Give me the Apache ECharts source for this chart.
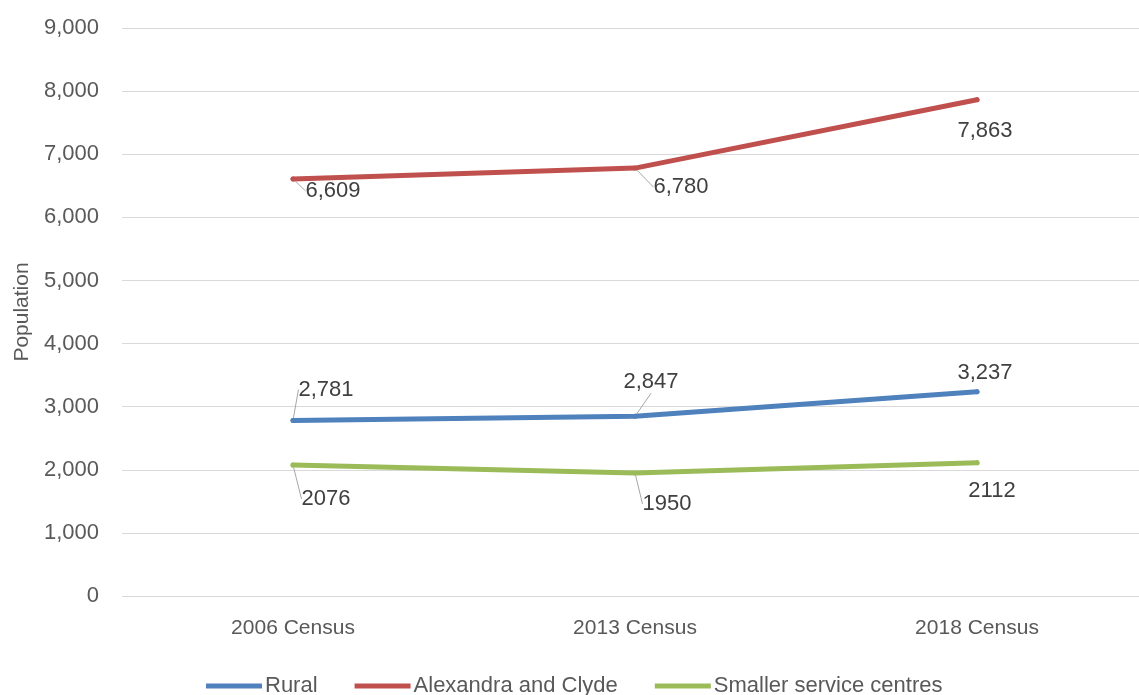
<!DOCTYPE html>
<html>
<head>
<meta charset="utf-8">
<script src="https://cdn.jsdelivr.net/npm/echarts@6/dist/echarts.min.js"></script>
<style>
  html, body { margin: 0; padding: 0; background: #fff; }
  #chart { width: 1139px; height: 695px; }
</style>
</head>
<body>
<div id="chart"></div>
<script>
const categories = ["2006 Census", "2013 Census", "2018 Census"];
const rural = [2781, 2847, 3237];
const alexandraClyde = [6609, 6780, 7863];
const smallerCentres = [2076, 1950, 2112];
const seriesNames = ["Rural", "Alexandra and Clyde", "Smaller service centres"];

// label nudges (pixels) and whether a leader line is drawn, like Excel did
const ruralNudge = [[33, -31], [16, -34], [8, -19]];
const alexNudge = [[40, 12], [46, 19], [8, 31]];
const smallNudge = [[33, 34], [32, 31], [15, 28]];
const leader = [true, true, false];

const font = "Liberation Sans";

function makeSeries(name, values, color, nudge, fmt) {
  return {
    name: name,
    type: "line",
    data: values.map((v, i) => ({ value: v, labelLine: { show: leader[i] } })),
    symbol: "circle",
    symbolSize: 5,
    itemStyle: { color: color },
    lineStyle: { color: color, width: 5, cap: "round" },
    label: {
      show: true,
      position: "inside",
      color: "#404040",
      fontFamily: font,
      fontSize: 22,
      formatter: (p) => fmt(p.value)
    },
    labelLayout: (p) => ({ dx: nudge[p.dataIndex][0], dy: nudge[p.dataIndex][1] }),
    labelLine: { show: true, lineStyle: { color: "#a6a6a6", width: 1 } },
    emphasis: { disabled: true }
  };
}

const comma = (v) => v.toLocaleString("en-US");
const plain = (v) => String(v);

const chart = echarts.init(document.getElementById("chart"));
chart.setOption({
  animation: false,
  grid: { left: 122, top: 28, width: 1026, height: 568, outerBoundsMode: "none", containLabel: false },
  legend: {
    bottom: -7,
    left: 201,
    data: seriesNames,
    icon: "rect",
    itemWidth: 56,
    itemHeight: 5,
    itemGap: 37,
    textStyle: { color: "#595959", fontFamily: font, fontSize: 22, padding: [0, 0, 0, -2] }
  },
  xAxis: {
    type: "category",
    data: categories,
    boundaryGap: true,
    axisLine: { show: false },
    axisTick: { show: false },
    axisLabel: { color: "#595959", fontFamily: font, fontSize: 21, margin: 22 }
  },
  yAxis: {
    type: "value",
    min: 0,
    max: 9000,
    interval: 1000,
    name: "Population",
    nameLocation: "middle",
    nameGap: 88,
    nameRotate: 90,
    nameTextStyle: { color: "#595959", fontFamily: font, fontSize: 21 },
    axisLine: { show: false },
    axisTick: { show: false },
    axisLabel: { color: "#595959", fontFamily: font, fontSize: 22, margin: 23, formatter: comma },
    splitLine: { lineStyle: { color: "#d9d9d9", width: 1 } }
  },
  series: [
    makeSeries(seriesNames[0], rural, "#4F81BD", ruralNudge, comma),
    makeSeries(seriesNames[1], alexandraClyde, "#C0504D", alexNudge, comma),
    makeSeries(seriesNames[2], smallerCentres, "#9BBB59", smallNudge, plain)
  ]
});
</script>
</body>
</html>
